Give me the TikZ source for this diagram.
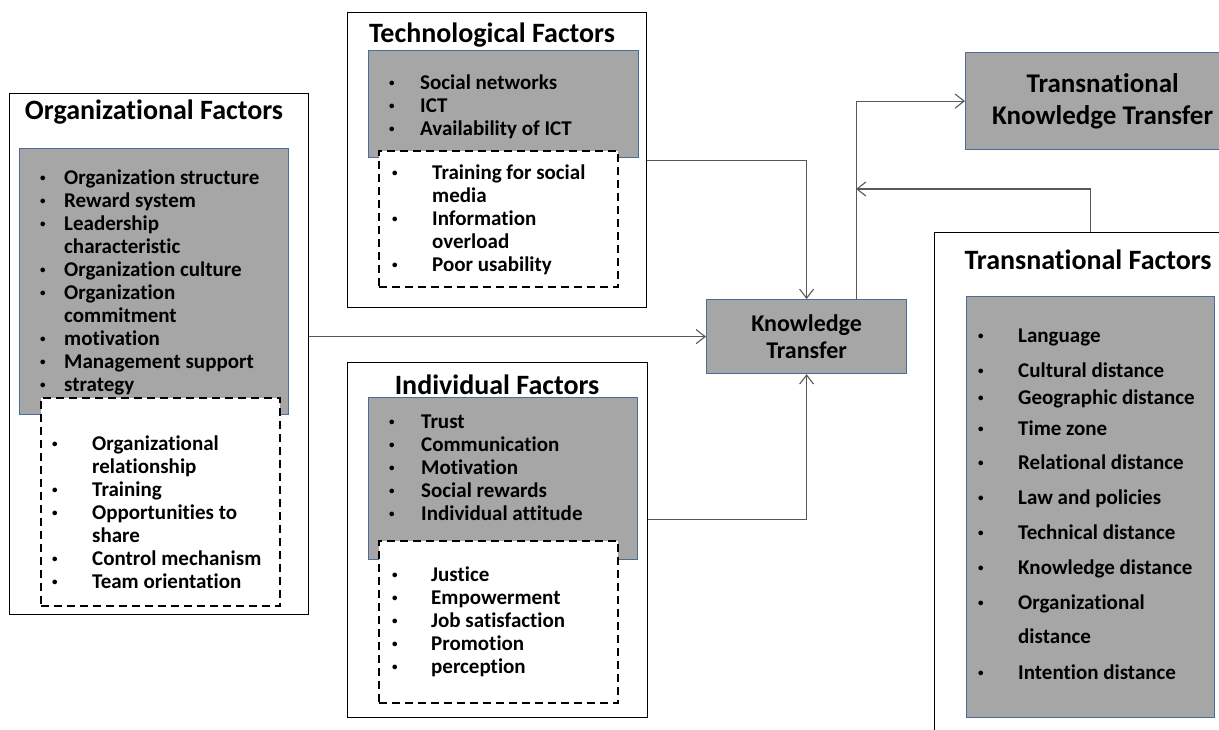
\documentclass[tikz,border=0pt]{standalone}
\usepackage{fontspec}
\setmainfont[Ligatures=NoCommon]{Carlito}
\usepackage{tikz}
\usetikzlibrary{arrows.meta,positioning}

\definecolor{boxgray}{HTML}{A6A6A6}
\definecolor{boxblue}{HTML}{4A6E9A}
\definecolor{linkgray}{HTML}{595959}

\newcommand{\itemfont}{\fontsize{21}{23}\selectfont\bfseries}
\newcommand{\headfont}{\fontsize{28}{32}\selectfont\bfseries}
\newcommand{\bul}{\raisebox{2.8pt}{\fontsize{11}{11}\selectfont\textbullet}}

\tikzset{
  frame/.style={draw=black, line width=1.4pt, fill=white, anchor=north west, inner sep=0pt},
  shade/.style={draw=boxblue, line width=1.2pt, fill=boxgray, anchor=north west, inner sep=0pt},
  dashbox/.style={draw=black, dash pattern=on 8pt off 5pt, line width=1.8pt, fill=white, anchor=north west, inner sep=0pt},
  head/.style={font=\headfont, anchor=base, inner sep=0pt},
  list/.style={anchor=base west, inner sep=0pt, font=\itemfont},
  link/.style={draw=linkgray, line width=1.1pt, -{Straight Barb[length=9pt,width=14pt]}}
}

\begin{document}
\begin{tikzpicture}[x=1pt,y=-1pt]
\clip (0,0) rectangle (1219,729);

\node[frame, minimum width=299pt, minimum height=521pt] (org) at (9,93) {};
\node[shade, minimum width=269pt, minimum height=266pt] (orggray) at (19,148) {};
\node[dashbox, minimum width=239pt, minimum height=208pt] (orgdash) at (40,397) {};
\node[head] (orgtitle) at (154,119) {Organizational Factors};
\node[list] (orglist) at (40,184) {\begin{tabular}[t]{@{}p{24pt}@{}l@{}}
\bul & Organization structure\\
\bul & Reward system\\
\bul & Leadership\\
 & characteristic\\
\bul & Organization culture\\
\bul & Organization\\
 & commitment\\
\bul & motivation\\
\bul & Management support\\
\bul & strategy
\end{tabular}};
\node[list] (orgextra) at (52,450) {\begin{tabular}[t]{@{}p{40pt}@{}l@{}}
\bul & Organizational\\
 & relationship\\
\bul & Training\\
\bul & Opportunities to\\
 & share\\
\bul & Control mechanism\\
\bul & Team orientation
\end{tabular}};

\node[frame, minimum width=299pt, minimum height=295pt] (tech) at (347,12) {};
\node[shade, minimum width=270pt, minimum height=107pt] (techgray) at (368,50) {};
\node[dashbox, minimum width=239pt, minimum height=136pt] (techdash) at (378,150) {};
\node[head] (techtitle) at (492,42) {Technological Factors};
\node[list] (techlist) at (389,89) {\begin{tabular}[t]{@{}p{31pt}@{}l@{}}
\bul & Social networks\\
\bul & ICT\\
\bul & Availability of ICT
\end{tabular}};
\node[list] (techextra) at (392,179) {\begin{tabular}[t]{@{}p{40pt}@{}l@{}}
\bul & Training for social\\
 & media\\
\bul & Information\\
 & overload\\
\bul & Poor usability
\end{tabular}};

\node[frame, minimum width=300pt, minimum height=355pt] (ind) at (347,362) {};
\node[shade, minimum width=269pt, minimum height=162pt] (indgray) at (368,397) {};
\node[dashbox, minimum width=239pt, minimum height=162pt] (inddash) at (378,540) {};
\node[head] (indtitle) at (497,394) {Individual Factors};
\node[list] (indlist) at (389,428) {\begin{tabular}[t]{@{}p{32pt}@{}l@{}}
\bul & Trust\\
\bul & Communication\\
\bul & Motivation\\
\bul & Social rewards\\
\bul & Individual attitude
\end{tabular}};
\node[list] (indextra) at (392,581) {\begin{tabular}[t]{@{}p{39pt}@{}l@{}}
\bul & Justice\\
\bul & Empowerment\\
\bul & Job satisfaction\\
\bul & Promotion\\
\bul & perception
\end{tabular}};

\node[shade, minimum width=200pt, minimum height=74pt, align=center,
  font=\fontsize{24}{27}\selectfont\bfseries] (kt) at (706,299) {Knowledge\\Transfer};
\node[shade, minimum width=274pt, minimum height=97pt, align=center,
  font=\fontsize{27}{32}\selectfont\bfseries] (tkt) at (965,52) {Transnational\\Knowledge Transfer};

\node[frame, minimum width=312pt, minimum height=520pt] (tf) at (934,232) {};
\node[shade, minimum width=248pt, minimum height=421pt] (tfgray) at (966,296) {};
\node[head] (tftitle) at (1088,269) {Transnational Factors};
\node[list] (tflist) at (978,342) {\begin{tabular}[t]{@{}p{40pt}@{}l@{}}
\bul & Language\\[12pt]
\bul & Cultural distance\\[4pt]
\bul & Geographic distance\\[8pt]
\bul & Time zone\\[11pt]
\bul & Relational distance\\[12pt]
\bul & Law and policies\\[12pt]
\bul & Technical distance\\[12pt]
\bul & Knowledge distance\\[12pt]
\bul & Organizational\\[11pt]
 & distance\\[13pt]
\bul & Intention distance
\end{tabular}};

\coordinate (back) at (856,189);

\draw[link] (kt.west -| org.east) -- (kt.west);
\draw[link] (tech.east) -| (kt.north);
\draw[link] ([yshift=20.5pt]ind.east) -| (kt.south);
\draw[link] ([xshift=50pt]kt.north) |- (tkt.west);
\draw[link] (tf.north) |- (back);
\end{tikzpicture}
\end{document}
